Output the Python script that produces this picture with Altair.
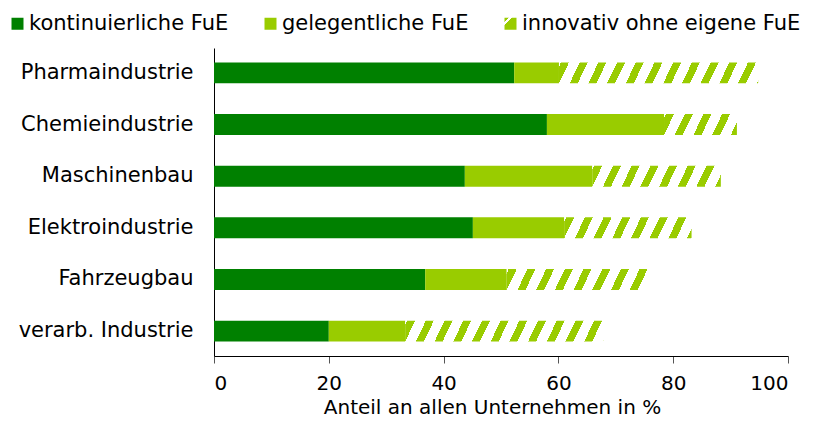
import altair as alt
import pandas as pd

# ---- data ----
categories = ["Pharmaindustrie", "Chemieindustrie", "Maschinenbau",
              "Elektroindustrie", "Fahrzeugbau", "verarb. Industrie"]
series_names = ["kontinuierliche FuE", "gelegentliche FuE", "innovativ ohne eigene FuE"]
kontinuierlich = [52.3, 58.0, 43.7, 45.1, 36.8, 20.0]
gelegentlich = [7.8, 20.4, 22.2, 15.9, 14.2, 13.3]
innovativ = [34.7, 12.7, 22.4, 22.2, 24.7, 34.5]
x_ticks = [0, 20, 40, 60, 80, 100]

# ---- styling ----
DARK = "#008000"
LIGHT = "#99CC00"
WHITE = "#ffffff"
FONT = "DejaVu Sans"
W, H = 574, 308
BAR_H = 21
PX = W / 100.0
STRIPE_P, STRIPE_G, SLANT = 18.7, 8.0, 10.0


def hatch(w, h, s=SLANT, period=STRIPE_P, green=STRIPE_G, offset=2.0):
    """Linear gradient with hard stops that draws '/' stripes in a w x h box."""
    total = w + s
    c = total / (w * w + s * s)
    stops = [{"offset": 0, "color": WHITE}]
    k = 0
    while True:
        a = k * period + offset
        if a >= total:
            break
        b = min(a + green, total)
        stops += [
            {"offset": a / total, "color": WHITE},
            {"offset": a / total, "color": LIGHT},
            {"offset": b / total, "color": LIGHT},
            {"offset": b / total, "color": WHITE},
        ]
        k += 1
    stops.append({"offset": 1, "color": WHITE})
    return {"gradient": "linear", "x1": 0, "y1": 0,
            "x2": c * w, "y2": c * s, "stops": stops}


legend_stops = [(0, LIGHT), (0.38, LIGHT), (0.38, WHITE), (0.6, WHITE), (0.6, LIGHT), (1, LIGHT)]
legend_grad_expr = (
    "{gradient: 'linear', x1: 0, y1: 0, x2: 0.5, y2: 0.5, stops: ["
    + ", ".join(f"{{offset: {o}, color: '{c}'}}" for o, c in legend_stops)
    + "]}"
)

rows = []
for i, cat in enumerate(categories):
    for j, (name, vals) in enumerate(zip(series_names, [kontinuierlich, gelegentlich, innovativ])):
        rows.append({"cat": cat, "series": name, "value": vals[i], "idx": j})
df = pd.DataFrame(rows)

conditions = [
    {"test": f"datum.series === '{series_names[2]}' && datum.cat === '{cat}'",
     "value": hatch(innovativ[i] * PX, BAR_H)}
    for i, cat in enumerate(categories)
]

legend = alt.Legend(
    title=None, orient="none", legendX=-207, legendY=-35, direction="horizontal",
    symbolType="square", symbolSize=144, symbolStrokeWidth=0,
    labelFont=FONT, labelFontSize=21, labelColor="#000000", labelOffset=1,
    labelLimit=400, columnPadding=31,
)

chart = alt.Chart(df).mark_bar(strokeWidth=0).encode(
    y=alt.Y("cat:N", sort=categories,
            scale=alt.Scale(paddingInner=0.595, paddingOuter=0.28),
            axis=alt.Axis(title=None, ticks=False, labelFont=FONT, labelFontSize=21,
                          labelColor="#000000", labelPadding=21, labelLimit=300,
                          domainColor="#000000", domainWidth=1)),
    x=alt.X("value:Q", stack="zero",
            scale=alt.Scale(domain=[0, 100], nice=False),
            axis=alt.Axis(title="Anteil an allen Unternehmen in %", values=x_ticks,
                          grid=False, tickSize=7, tickColor="#555555",
                          domainColor="#000000", domainWidth=1,
                          labelFont=FONT, labelFontSize=20, labelColor="#000000",
                          labelPadding=10, titleFont=FONT, titleFontSize=20,
                          titleFontWeight="normal", titleColor="#000000",
                          titleX=278, titleY=57, titleBaseline="alphabetic")),
    fill=alt.Fill("series:N",
                  scale=alt.Scale(domain=series_names,
                                  range=[DARK, LIGHT, alt.ExprRef(legend_grad_expr)]),
                  legend=legend, condition=conditions),
    order=alt.Order("idx:Q"),
).properties(
    width=W, height=H,
    autosize=alt.AutoSizeParams(type="none"),
    padding={"left": 206, "top": 40, "right": 22, "bottom": 62},
).configure_view(stroke=None)

chart.save("out.html", embed_options={"renderer": "svg", "actions": False})
